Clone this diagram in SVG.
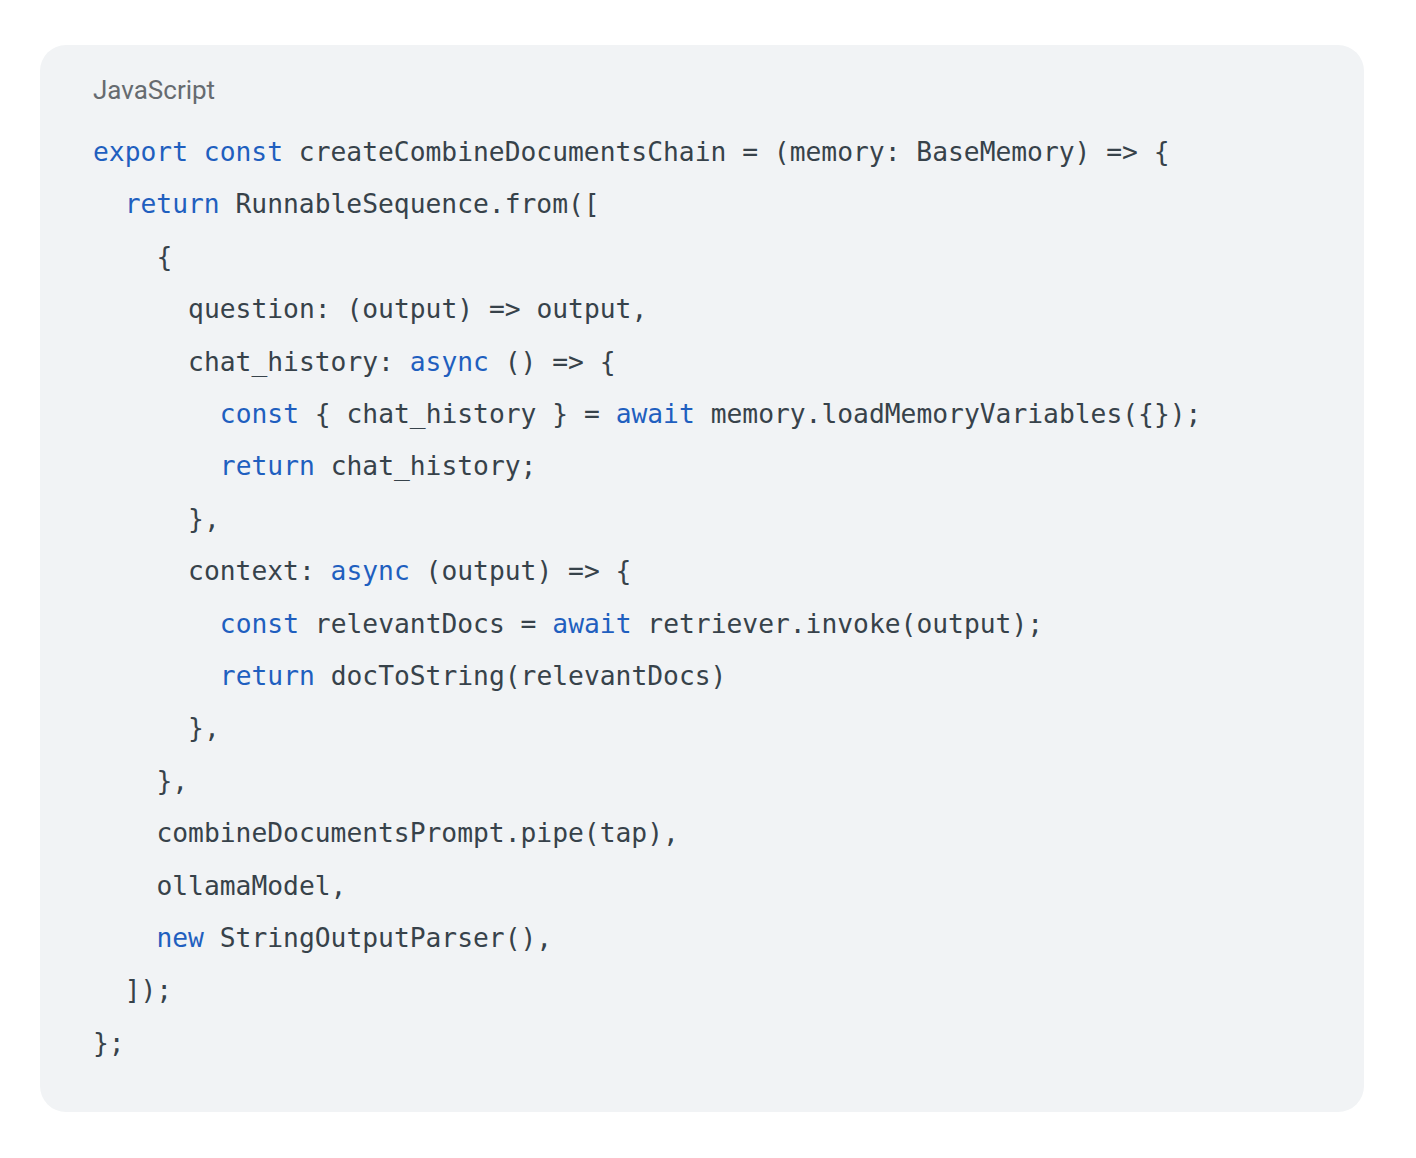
<svg xmlns="http://www.w3.org/2000/svg" width="1416" height="1158" viewBox="0 0 1416 1158">
<style>
.code{font-family:"DejaVu Sans Mono","Liberation Mono",monospace;font-size:26.3px;fill:#37424a;white-space:pre}
.kw{fill:#1f5fbf}
.lang{font-family:Roboto,"Liberation Sans",sans-serif;font-size:26px;fill:#666b70}
</style>
<rect x="0" y="0" width="1416" height="1158" fill="#ffffff"/>
<g id="codeblock">
<rect x="40" y="45" width="1324" height="1067" rx="26" ry="26" fill="#f1f3f5"/>
<text class="lang" x="93" y="98.5">JavaScript</text>
<g class="code" xml:space="preserve">
<text x="93" y="161"><tspan class="kw">export</tspan> <tspan class="kw">const</tspan> createCombineDocumentsChain = (memory: BaseMemory) =&gt; {</text>
<text x="124.7" y="213.4"><tspan class="kw">return</tspan> RunnableSequence.from([</text>
<text x="156.4" y="265.8">{</text>
<text x="188.1" y="318.2">question: (output) =&gt; output,</text>
<text x="188.1" y="370.6">chat_history: <tspan class="kw">async</tspan> () =&gt; {</text>
<text x="219.8" y="423"><tspan class="kw">const</tspan> { chat_history } = <tspan class="kw">await</tspan> memory.loadMemoryVariables({});</text>
<text x="219.8" y="475.4"><tspan class="kw">return</tspan> chat_history;</text>
<text x="188.1" y="527.8">},</text>
<text x="188.1" y="580.2">context: <tspan class="kw">async</tspan> (output) =&gt; {</text>
<text x="219.8" y="632.6"><tspan class="kw">const</tspan> relevantDocs = <tspan class="kw">await</tspan> retriever.invoke(output);</text>
<text x="219.8" y="685"><tspan class="kw">return</tspan> docToString(relevantDocs)</text>
<text x="188.1" y="737.4">},</text>
<text x="156.4" y="789.8">},</text>
<text x="156.4" y="842.2">combineDocumentsPrompt.pipe(tap),</text>
<text x="156.4" y="894.6">ollamaModel,</text>
<text x="156.4" y="947"><tspan class="kw">new</tspan> StringOutputParser(),</text>
<text x="124.7" y="999.4">]);</text>
<text x="93" y="1051.8">};</text>
</g>
</g>
</svg>
